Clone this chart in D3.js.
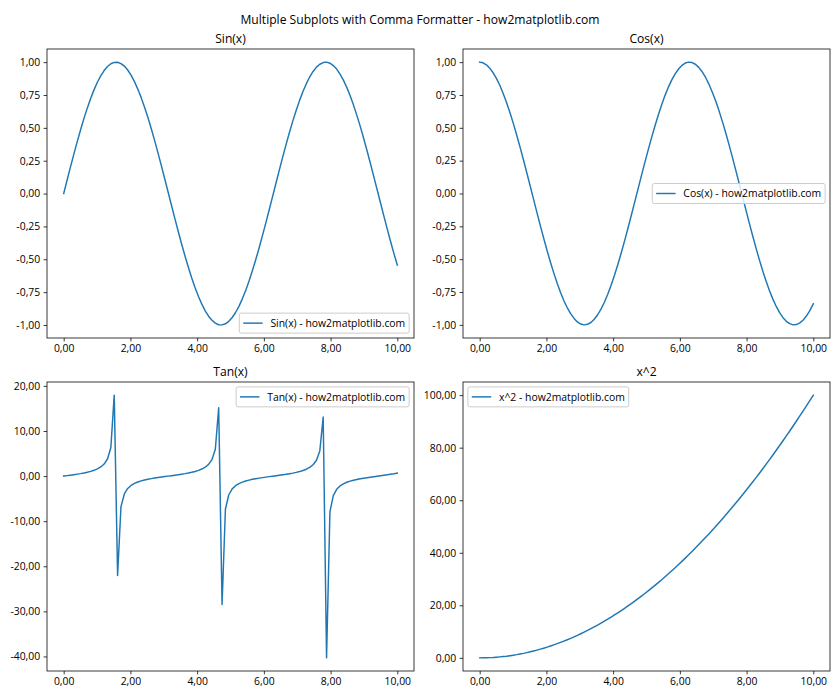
<!DOCTYPE html>
<html><head><meta charset="utf-8">
<script src="https://cdn.jsdelivr.net/npm/d3@7"></script>
<style>
body{margin:0;background:#fff}
svg{display:block}
text{font-family:"Open Sans","Noto Sans",sans-serif;fill:#000}
</style>
</head><body>
<svg id="chart" width="840" height="700"></svg>
<script>
// ---------------- data ----------------
const xValues = [0.000,0.101,0.202,0.303,0.404,0.505,0.606,0.707,0.808,0.909,
1.010,1.111,1.212,1.313,1.414,1.515,1.616,1.717,1.818,1.919,
2.020,2.121,2.222,2.323,2.424,2.525,2.626,2.727,2.828,2.929,
3.030,3.131,3.232,3.333,3.434,3.535,3.636,3.737,3.838,3.939,
4.040,4.141,4.242,4.343,4.444,4.545,4.646,4.747,4.848,4.949,
5.051,5.152,5.253,5.354,5.455,5.556,5.657,5.758,5.859,5.960,
6.061,6.162,6.263,6.364,6.465,6.566,6.667,6.768,6.869,6.970,
7.071,7.172,7.273,7.374,7.475,7.576,7.677,7.778,7.879,7.980,
8.081,8.182,8.283,8.384,8.485,8.586,8.687,8.788,8.889,8.990,
9.091,9.192,9.293,9.394,9.495,9.596,9.697,9.798,9.899,10.000];

const sinValues = [0.000,0.101,0.201,0.298,0.393,0.484,0.570,0.650,0.723,0.789,
0.847,0.896,0.936,0.967,0.988,0.998,0.999,0.989,0.970,0.940,
0.901,0.852,0.795,0.730,0.657,0.578,0.493,0.403,0.308,0.211,
0.111,0.010,-0.091,-0.191,-0.289,-0.384,-0.475,-0.561,-0.642,-0.716,
-0.783,-0.841,-0.892,-0.933,-0.964,-0.986,-0.998,-0.999,-0.991,-0.972,
-0.943,-0.905,-0.858,-0.801,-0.737,-0.665,-0.586,-0.502,-0.412,-0.318,
-0.221,-0.121,-0.021,0.080,0.180,0.279,0.374,0.466,0.553,0.634,
0.709,0.776,0.836,0.887,0.929,0.962,0.984,0.997,1.000,0.992,
0.974,0.947,0.909,0.863,0.808,0.744,0.673,0.595,0.511,0.421,
0.328,0.231,0.131,0.031,-0.070,-0.170,-0.269,-0.365,-0.457,-0.544];

const cosValues = [1.000,0.995,0.980,0.954,0.919,0.875,0.822,0.760,0.691,0.614,
0.532,0.444,0.351,0.255,0.156,0.056,-0.045,-0.146,-0.245,-0.341,
-0.434,-0.523,-0.606,-0.683,-0.754,-0.816,-0.870,-0.915,-0.951,-0.978,
-0.994,-1.000,-0.996,-0.982,-0.957,-0.923,-0.880,-0.828,-0.767,-0.698,
-0.623,-0.540,-0.453,-0.361,-0.265,-0.166,-0.066,0.035,0.136,0.235,
0.332,0.425,0.514,0.598,0.676,0.747,0.810,0.865,0.911,0.948,
0.975,0.993,1.000,0.997,0.984,0.960,0.927,0.885,0.833,0.773,
0.706,0.631,0.549,0.462,0.370,0.275,0.176,0.076,-0.025,-0.125,
-0.225,-0.322,-0.416,-0.505,-0.590,-0.668,-0.740,-0.804,-0.860,-0.907,
-0.945,-0.973,-0.991,-1.000,-0.998,-0.985,-0.963,-0.931,-0.890,-0.839];

const tanValues = [0.00,0.10,0.20,0.31,0.43,0.55,0.69,0.85,1.05,1.28,
1.59,2.02,2.67,3.79,6.33,17.95,-22.03,-6.78,-3.96,-2.75,
-2.07,-1.63,-1.31,-1.07,-0.87,-0.71,-0.57,-0.44,-0.32,-0.22,
-0.11,-0.01,0.09,0.19,0.30,0.42,0.54,0.68,0.84,1.03,
1.26,1.56,1.97,2.59,3.64,5.93,15.15,-28.49,-7.30,-4.14,
-2.84,-2.13,-1.67,-1.34,-1.09,-0.89,-0.72,-0.58,-0.45,-0.34,
-0.23,-0.12,-0.02,0.08,0.18,0.29,0.40,0.53,0.66,0.82,
1.00,1.23,1.52,1.92,2.51,3.50,5.58,13.10,-40.31,-7.91,
-4.33,-2.94,-2.19,-1.71,-1.37,-1.11,-0.91,-0.74,-0.59,-0.46,
-0.35,-0.24,-0.13,-0.03,0.07,0.17,0.28,0.39,0.51,0.65];

const squareValues = [0.00,0.01,0.04,0.09,0.16,0.26,0.37,0.50,0.65,0.83,
1.02,1.23,1.47,1.72,2.00,2.30,2.61,2.95,3.31,3.68,
4.08,4.50,4.94,5.40,5.88,6.38,6.90,7.44,8.00,8.58,
9.18,9.81,10.45,11.11,11.79,12.50,13.22,13.97,14.73,15.52,
16.32,17.15,18.00,18.87,19.75,20.66,21.59,22.54,23.51,24.50,
25.51,26.54,27.59,28.66,29.75,30.86,32.00,33.15,34.32,35.52,
36.73,37.97,39.22,40.50,41.79,43.11,44.44,45.80,47.18,48.58,
49.99,51.43,52.89,54.37,55.87,57.39,58.93,60.49,62.08,63.68,
65.30,66.94,68.61,70.29,71.99,73.72,75.46,77.23,79.01,80.82,
82.64,84.49,86.36,88.25,90.15,92.08,94.03,96.00,97.99,100.00];

const xTicks = [0, 2, 4, 6, 8, 10];
const sinTicks = [-1, -0.75, -0.5, -0.25, 0, 0.25, 0.5, 0.75, 1];
const cosTicks = [-1, -0.75, -0.5, -0.25, 0, 0.25, 0.5, 0.75, 1];
const tanTicks = [-40, -30, -20, -10, 0, 10, 20];
const squareTicks = [0, 20, 40, 60, 80, 100];
const panelTitles = ["Sin(x)", "Cos(x)", "Tan(x)", "x^2"];
const legendLabels = ["Sin(x) - how2matplotlib.com", "Cos(x) - how2matplotlib.com",
                      "Tan(x) - how2matplotlib.com", "x^2 - how2matplotlib.com"];
const figureTitle = "Multiple Subplots with Comma Formatter - how2matplotlib.com";

// ---------------- layout ----------------
const FS = 10.4;       // tick / legend text
const TFS = 12.1;      // titles
const BASE = 9.72;     // 10pt at 70 dpi, for matplotlib paddings
const LINE_COLOR = "#1f77b4";
const colX = [[47, 414], [463, 830]];
const rowY = [[49, 338], [382, 671]];

const panels = [
  {vals: sinValues, ticks: sinTicks, title: panelTitles[0], label: legendLabels[0], loc: "lower right", c: 0, r: 0},
  {vals: cosValues, ticks: cosTicks, title: panelTitles[1], label: legendLabels[1], loc: "center right", c: 1, r: 0},
  {vals: tanValues, ticks: tanTicks, title: panelTitles[2], label: legendLabels[2], loc: "upper right", c: 0, r: 1},
  {vals: squareValues, ticks: squareTicks, title: panelTitles[3], label: legendLabels[3], loc: "upper left", c: 1, r: 1}
];

const fmt = v => {
  const a = Math.abs(v) < 1e-9 ? 0 : v;
  return (a < 0 ? "-" : "") + Math.abs(a).toFixed(2).replace(".", ",");
};

const svg = d3.select("#chart");
svg.append("rect").attr("width", 840).attr("height", 700).attr("fill", "#fff");

svg.append("text").attr("x", 420).attr("y", 24).attr("text-anchor", "middle")
  .style("font-size", TFS + "px").text(figureTitle);

function padDomain(arr) {
  const [lo, hi] = d3.extent(arr);
  const m = (hi - lo) * 0.05;
  return [lo - m, hi + m];
}

panels.forEach(p => {
  const [x0, x1] = colX[p.c];
  const [y0, y1] = rowY[p.r];
  const x = d3.scaleLinear().domain(padDomain(xValues)).range([x0, x1]);
  const y = d3.scaleLinear().domain(padDomain(p.vals)).range([y1, y0]);
  const g = svg.append("g");

  // line
  const data = xValues.map((xv, i) => [xv, p.vals[i]]);
  g.append("path").datum(data)
    .attr("d", d3.line().x(d => x(d[0])).y(d => y(d[1])))
    .attr("fill", "none").attr("stroke", LINE_COLOR)
    .attr("stroke-width", 1.46).attr("stroke-linejoin", "round").attr("stroke-linecap", "square");

  // axes
  const xa = g.append("g").attr("transform", `translate(0,${y1})`)
    .call(d3.axisBottom(x).tickValues(xTicks).tickFormat(fmt).tickSize(3.4).tickPadding(3.4));
  const ya = g.append("g").attr("transform", `translate(${x0},0)`)
    .call(d3.axisLeft(y).tickValues(p.ticks).tickFormat(fmt).tickSize(3.4).tickPadding(3.4));
  [xa, ya].forEach(a => {
    a.select(".domain").remove();
    a.selectAll("line").attr("stroke", "#000").attr("stroke-width", 0.78);
    a.selectAll("text").style("font-size", FS + "px").attr("fill", "#000")
      .style("font-family", '"Open Sans","Noto Sans",sans-serif');
  });

  // spines
  g.append("rect").attr("x", x0).attr("y", y0).attr("width", x1 - x0).attr("height", y1 - y0)
    .attr("fill", "none").attr("stroke", "#000").attr("stroke-width", 0.78);

  // title
  g.append("text").attr("x", (x0 + x1) / 2).attr("y", y0 - 6).attr("text-anchor", "middle")
    .style("font-size", TFS + "px").text(p.title);

  // legend
  const lg = g.append("g");
  const txt = lg.append("text").style("font-size", FS + "px").text(p.label);
  const tw = txt.node().getComputedTextLength();
  const bp = 0.4 * BASE, hl = 2.0 * BASE, hp = 0.8 * BASE, ap = 0.5 * BASE;
  const lw = bp + hl + hp + tw + bp;
  const lh = 20;
  let lx, ly;
  if (p.loc === "lower right") { lx = x1 - ap - lw; ly = y1 - ap - lh; }
  else if (p.loc === "center right") { lx = x1 - ap - lw; ly = (y0 + y1) / 2 - lh / 2; }
  else if (p.loc === "upper right") { lx = x1 - ap - lw; ly = y0 + ap; }
  else { lx = x0 + ap; ly = y0 + ap; }
  lg.insert("rect", "text").attr("x", lx).attr("y", ly).attr("width", lw).attr("height", lh)
    .attr("rx", 2).attr("fill", "#fff").attr("fill-opacity", 0.8)
    .attr("stroke", "#cccccc").attr("stroke-width", 1);
  lg.insert("line", "text").attr("x1", lx + bp).attr("x2", lx + bp + hl)
    .attr("y1", ly + lh / 2).attr("y2", ly + lh / 2)
    .attr("stroke", LINE_COLOR).attr("stroke-width", 1.46);
  txt.attr("x", lx + bp + hl + hp).attr("y", ly + lh / 2).attr("dy", "0.35em");
});
</script>
</body></html>
